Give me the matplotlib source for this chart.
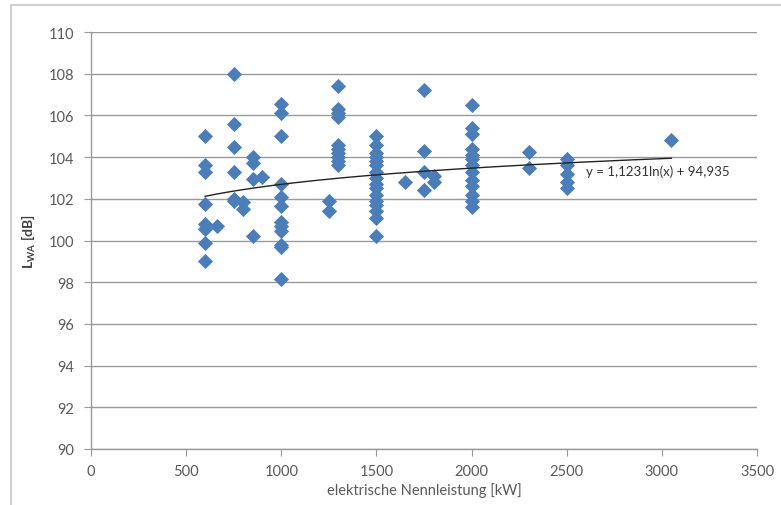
import matplotlib.pyplot as plt
import numpy as np
from matplotlib.lines import Line2D

plt.rcParams['font.family'] = ['Lato', 'DejaVu Sans']

# Nennleistung [kW] und Schallleistungspegel [dB]
x_600 = [600] * 8 + [660]
y_600 = [105.0, 103.6, 103.3, 101.75, 100.8, 100.55, 99.9, 99.0, 100.7]
x_750 = [750] * 6 + [800, 800, 850, 850, 850, 900]
y_750 = [108.0, 105.6, 104.5, 103.3, 101.9, 102.0, 101.85, 101.5, 104.0, 103.7, 102.95, 103.05]
x_850b = [850]
y_850b = [100.2]
x_1000 = [1000] * 12
y_1000 = [106.55, 106.1, 105.0, 102.7, 102.1, 101.65, 100.9, 100.7, 100.45, 99.8, 99.7, 98.15]
x_1250 = [1250, 1250]
y_1250 = [101.9, 101.4]
x_1300 = [1300] * 10
y_1300 = [107.4, 106.3, 106.1, 105.9, 104.6, 104.4, 104.2, 104.0, 103.8, 103.6]
x_1500 = [1500] * 16
y_1500 = [105.0, 104.6, 104.2, 104.0, 103.8, 103.6, 103.3, 103.0, 102.7, 102.5,
          102.2, 101.9, 101.7, 101.4, 101.1, 100.2]
x_1650 = [1650, 1750, 1750, 1750, 1750, 1800, 1800]
y_1650 = [102.8, 107.2, 104.3, 103.3, 102.4, 103.1, 102.8]
x_2000 = [2000] * 13
y_2000 = [106.5, 105.4, 105.1, 104.4, 104.1, 103.9, 103.6, 103.3, 102.9, 102.6,
          102.2, 101.9, 101.6]
x_2300 = [2300, 2300, 2500, 2500, 2500, 2500, 2500, 3050]
y_2300 = [104.25, 103.5, 103.9, 103.6, 103.2, 102.8, 102.5, 104.8]

xs = np.array(x_600 + x_750 + x_850b + x_1000 + x_1250 + x_1300 + x_1500 + x_1650 + x_2000 + x_2300)
ys = np.array(y_600 + y_750 + y_850b + y_1000 + y_1250 + y_1300 + y_1500 + y_1650 + y_2000 + y_2300)

# logarithmische Trendlinie
a, b = 1.1231, 94.935
xt = np.linspace(600, 3050, 200)
yt = a * np.log(xt) + b

grey = '#595959'
fig = plt.figure(figsize=(7.81, 5.06), dpi=100)
ax = fig.add_axes([91 / 781, 1 - 450 / 506, 666 / 781, 417 / 506])

# Rahmen (nur oben und links sichtbar, Bild ist beschnitten)
fig.lines.append(Line2D([11 / 781, 11 / 781, 1.0], [0.0, 1 - 6 / 506, 1 - 6 / 506],
                        transform=fig.transFigure, color='#d0d0d0', linewidth=1.5))

ax.scatter(xs, ys, marker='D', s=60, color='#4a7ebb', zorder=3, linewidths=0)
ax.plot(xt, yt, color='#222222', linewidth=1.0, zorder=4)
ax.text(2600, 103.35, 'y = 1,1231ln(x) + 94,935', fontsize=9.5, color='#333333',
        va='center', ha='left')

ax.set_xlim(0, 3500)
ax.set_ylim(90, 110)
ax.set_xticks(np.arange(0, 3501, 500))
ax.set_yticks(np.arange(90, 111, 2))
ax.grid(axis='y', color='#9a9a9a', linewidth=1.0)
ax.set_axisbelow(True)
for side in ['top', 'right']:
    ax.spines[side].set_visible(False)
for side in ['left', 'bottom']:
    ax.spines[side].set_color('#9a9a9a')
    ax.spines[side].set_linewidth(1.0)
ax.tick_params(axis='both', colors='#9a9a9a', labelcolor=grey, labelsize=10.5,
               length=5, direction='out')
ax.tick_params(axis='y', pad=7)
ax.tick_params(axis='x', pad=6)

ax.set_xlabel('elektrische Nennleistung [kW]', fontsize=10.5, color=grey, labelpad=3)
ax.set_ylabel(r'L$_{\mathregular{WA}}$ [dB]', fontsize=10, color='#404040',
              fontweight='bold', labelpad=8)

fig.savefig('out.png', dpi=100)
